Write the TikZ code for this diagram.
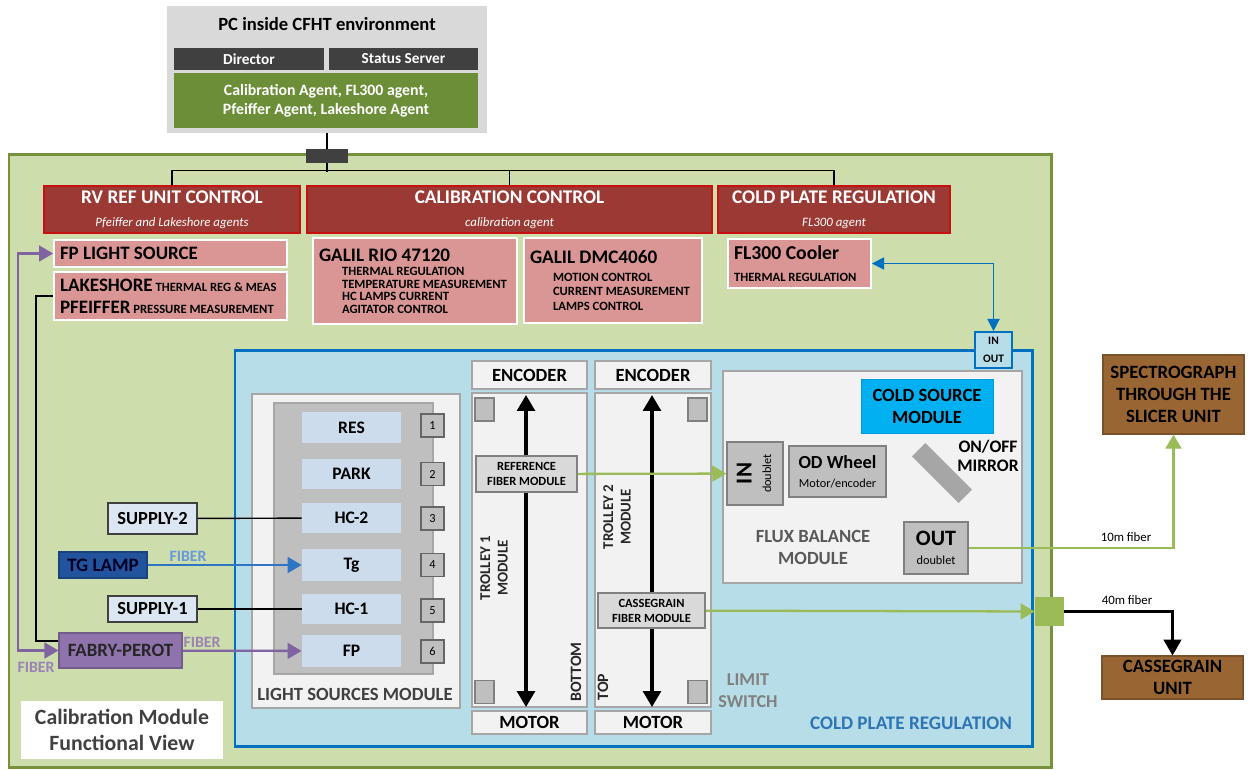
\documentclass[tikz,border=0pt]{standalone}
\usepackage{fontspec}
\setmainfont{Carlito}
\usepackage{xcolor}
\usetikzlibrary{arrows.meta,positioning}

\definecolor{pcgray}{RGB}{217,217,217}
\definecolor{agentgreen}{RGB}{109,142,56}
\definecolor{panelgreen}{RGB}{206,221,172}
\definecolor{panelborder}{RGB}{118,146,60}
\definecolor{hdrred}{RGB}{155,57,52}
\definecolor{hdrborder}{RGB}{200,16,16}
\definecolor{pinkfill}{RGB}{218,150,148}
\definecolor{coldfill}{RGB}{183,221,232}
\definecolor{coldline}{RGB}{0,112,192}
\definecolor{modfill}{RGB}{242,242,242}
\definecolor{modline}{RGB}{166,166,166}
\definecolor{partgray}{RGB}{191,191,191}
\definecolor{lampfill}{RGB}{204,220,236}
\definecolor{supplyfill}{RGB}{220,230,242}
\definecolor{tgblue}{RGB}{33,84,156}
\definecolor{fpurple}{RGB}{143,115,173}
\definecolor{fiberpurple}{RGB}{128,100,162}
\definecolor{fiberblue}{RGB}{46,117,196}
\definecolor{fiberlabel}{RGB}{102,153,221}
\definecolor{fibergreen}{RGB}{155,187,89}
\definecolor{unitbrown}{RGB}{153,102,51}
\definecolor{coldsrc}{RGB}{0,176,240}
\definecolor{textgray}{RGB}{89,89,89}
\definecolor{lightgraytext}{RGB}{128,128,128}
\definecolor{bluetext}{RGB}{46,117,182}

\begin{document}
\begin{tikzpicture}[x=0.02cm, y=-0.02cm,
  every node/.style={rectangle, inner sep=0pt, font=\bfseries},
  wh/.style 2 args={minimum width=#1*0.02cm, minimum height=#2*0.02cm},
  header/.style={fill=hdrred, draw=hdrborder, line width=0.8pt, text=white, align=center},
  pinkbox/.style={fill=pinkfill, draw=white, line width=1pt, align=flush left, inner xsep=0.12cm},
  modbox/.style={fill=modfill, draw=modline, line width=0.8pt},
  partbox/.style={fill=partgray, draw=gray, line width=0.8pt},
  lampbox/.style={fill=lampfill, font=\bfseries\fontsize{10}{12}\selectfont},
  slotbox/.style={fill=partgray, draw=gray!80!black, line width=0.8pt, wh={23}{23},
    font=\fontsize{7}{8}\selectfont},
  supplybox/.style={fill=supplyfill, draw=black!75, line width=0.8pt,
    font=\bfseries\fontsize{10.5}{12}\selectfont},
  endbox/.style={modbox, font=\bfseries\fontsize{10.6}{12}\selectfont},
  unitbox/.style={fill=unitbrown, draw=unitbrown!80!black, line width=0.6pt, align=center,
    font=\bfseries\fontsize{10.7}{12.5}\selectfont},
  fiberarrow/.style={-{Triangle[width=9pt,length=8pt]}, line width=1.3pt}
]

\useasboundingbox (0,0) rectangle (1250,769);
\fill[white] (0,0) rectangle (1250,769);



    \node (pc_box) [fill=pcgray, wh={320}{127}, shift={(327,69.5)}] {};

    \node (pc_title) [font=\bfseries\fontsize{10.6}{12}\selectfont, shift={(327,24)}]
    {
        PC inside CFHT environment
    };

    \node (director) [fill=black!75, text=white, wh={150}{22},
        font=\bfseries\fontsize{8.7}{10}\selectfont, shift={(249,59)}]
    {
        Director
    };

    \node (status_server) [fill=black!75, text=white, wh={149}{22},
        font=\bfseries\fontsize{8.7}{10}\selectfont, shift={(403.5,59)}]
    {
        Status Server
    };

    \node (cfht_agents) [fill=agentgreen, text=white, wh={304}{55}, align=center,
        font=\bfseries\fontsize{9}{11}\selectfont, shift={(326,100.5)}]
    {
        Calibration Agent, FL300 agent,\\Pfeiffer Agent, Lakeshore Agent
    };



    \node (main_panel) [fill=panelgreen, draw=panelborder, line width=1.7pt, wh={1042}{613},
        shift={(530,460.5)}] {};

    \draw[black, line width=0.8pt] (pc_box.south) -- ++(0,39);

    \node (lan_port) [fill=black!75, wh={42}{14}, shift={(327,156)}] {};



    \node (rv_ref_ctrl) [header, wh={256}{47}, shift={(172,209.5)}]
    {
        {\fontsize{11}{13}\selectfont RV REF UNIT CONTROL}\\[1pt]
        {\mdseries\itshape\fontsize{7.3}{8}\selectfont Pfeiffer and Lakeshore agents}
    };

    \node (calib_ctrl) [header, wh={405}{47}, shift={(509.5,209.5)}]
    {
        {\fontsize{11}{13}\selectfont CALIBRATION CONTROL}\\[1pt]
        {\mdseries\itshape\fontsize{7.3}{8}\selectfont calibration agent}
    };

    \node (cold_plate_ctrl) [header, wh={232}{47}, shift={(834,209.5)}]
    {
        {\fontsize{11}{13}\selectfont COLD PLATE REGULATION}\\[1pt]
        {\mdseries\itshape\fontsize{7.3}{8}\selectfont FL300 agent}
    };

    \draw[black, line width=0.8pt] (rv_ref_ctrl.north) -- ++(0,-15) -| (cold_plate_ctrl.north);
    \draw[black, line width=0.8pt] (calib_ctrl.north) -- ++(0,-15);



    \node (fp_light_src) [pinkbox, wh={233}{27}, text width=4.42cm,
        font=\bfseries\fontsize{10.8}{13}\selectfont, shift={(170.5,253.5)}]
    {
        FP LIGHT SOURCE
    };

    \node (lakeshore_pfeiffer) [pinkbox, wh={233}{48}, text width=4.42cm,
        font=\bfseries\fontsize{7.2}{12.5}\selectfont, shift={(170.5,296)}]
    {
        {\fontsize{10.8}{13}\selectfont LAKESHORE} THERMAL REG \& MEAS\\
        {\fontsize{10.8}{13}\selectfont PFEIFFER} PRESSURE MEASUREMENT
    };

    \node (galil_rio) [pinkbox, wh={204}{86}, text width=3.84cm,
        font=\bfseries\fontsize{7.2}{7.1}\selectfont, shift={(415,281)}]
    {
        {\fontsize{10.9}{13}\selectfont GALIL RIO 47120}\\[1pt]
        \hspace*{0.46cm}THERMAL REGULATION\\
        \hspace*{0.46cm}TEMPERATURE MEASUREMENT\\
        \hspace*{0.46cm}HC LAMPS CURRENT\\
        \hspace*{0.46cm}AGITATOR CONTROL
    };

    \node (galil_dmc) [pinkbox, wh={178}{85}, text width=3.32cm,
        font=\bfseries\fontsize{7.2}{8.2}\selectfont, shift={(613,280.5)}]
    {
        {\fontsize{10.9}{13}\selectfont GALIL DMC4060}\\[2pt]
        \hspace*{0.46cm}MOTION CONTROL\\
        \hspace*{0.46cm}CURRENT MEASUREMENT\\
        \hspace*{0.46cm}LAMPS CONTROL
    };

    \node (fl300_cooler) [pinkbox, wh={143}{49}, text width=2.62cm,
        font=\bfseries\fontsize{7.2}{12.5}\selectfont, shift={(799.5,263.5)}]
    {
        {\fontsize{11.2}{13}\selectfont FL300 Cooler}\\
        THERMAL REGULATION
    };



    \node (cold_plate) [fill=coldfill, draw=coldline, line width=1.7pt, wh={797}{396},
        shift={(633.5,548)}] {};

    \node (cold_plate_label) [text=bluetext, font=\bfseries\fontsize{10.9}{12}\selectfont,
        shift={(911,723)}]
    {
        COLD PLATE REGULATION
    };

    \node (in_out_port) [fill=coldfill, draw=coldline, line width=1pt, wh={37}{36}, align=center,
        font=\bfseries\fontsize{6.5}{10}\selectfont, shift={(993.5,350)}]
    {
        IN\\OUT
    };

    \draw[{Triangle[width=7pt,length=7pt]}-{Triangle[width=7pt,length=7pt]}, coldline, line width=0.8pt]
        (fl300_cooler.east) -| (in_out_port.north);



    \node (ls_module) [modbox, wh={208}{314}, shift={(356,551)}] {};

    \node (ls_carousel) [fill=partgray, draw=modline, line width=0.8pt, wh={159}{271},
        shift={(353.5,538.5)}] {};

    \node (ls_label) [text=black!75, font=\bfseries\fontsize{10.6}{12}\selectfont, shift={(355,694)}]
    {
        LIGHT SOURCES MODULE
    };

    \node (lamp_res) [lampbox, wh={99}{31}, shift={(351.5,427.5)}] {RES};
    \node (lamp_park) [lampbox, wh={99}{30}, shift={(351.5,474)}] {PARK};
    \node (lamp_hc2) [lampbox, wh={99}{30}, shift={(351.5,518)}] {HC-2};
    \node (lamp_tg) [lampbox, wh={99}{32}, shift={(351.5,565)}] {Tg};
    \node (lamp_hc1) [lampbox, wh={99}{30}, shift={(351.5,609)}] {HC-1};
    \node (lamp_fp) [lampbox, wh={99}{32}, shift={(351.5,651)}] {FP};

    \node (slot_1) [slotbox, shift={(432.5,425.5)}] {1};
    \node (slot_2) [slotbox, shift={(432.5,474)}] {2};
    \node (slot_3) [slotbox, shift={(432.5,518.5)}] {3};
    \node (slot_4) [slotbox, shift={(432.5,565)}] {4};
    \node (slot_5) [slotbox, shift={(432.5,610.5)}] {5};
    \node (slot_6) [slotbox, shift={(432.5,651.5)}] {6};



    \node (supply_2) [supplybox, wh={89}{31}, shift={(152.5,518.5)}] {SUPPLY-2};

    \node (tg_lamp) [fill=tgblue, draw=tgblue!80!black, line width=0.6pt, wh={88}{26},
        text=black!85!blue, font=\bfseries\fontsize{10.8}{12}\selectfont, shift={(103,565)}]
    {
        TG LAMP
    };

    \node (supply_1) [supplybox, wh={89}{26}, shift={(152.5,609)}] {SUPPLY-1};

    \node (fabry_perot) [fill=fpurple, draw=fpurple!80!black, line width=0.6pt, wh={123}{35},
        text=black!85, font=\bfseries\fontsize{10.7}{12}\selectfont, shift={(120.5,650.5)}]
    {
        FABRY-PEROT
    };

    \node (tg_fiber_label) [text=fiberlabel, font=\bfseries\fontsize{9}{10}\selectfont,
        shift={(188,556)}] {FIBER};
    \node (fp_fiber_label) [text=fiberpurple!80, font=\bfseries\fontsize{9}{10}\selectfont,
        shift={(202,642)}] {FIBER};
    \node (fp_src_fiber_label) [text=fiberpurple!80, font=\bfseries\fontsize{9}{10}\selectfont,
        shift={(36,667)}] {FIBER};

    \coordinate (fiber_bend) at (18,450);
    \coordinate (power_bend) at (36,450);

    \draw[black, line width=0.8pt] (supply_2) -- (lamp_hc2);
    \draw[black, line width=0.8pt] (supply_1) -- (lamp_hc1);
    \draw[fiberarrow, fiberblue] (tg_lamp) -- (lamp_tg);
    \draw[fiberarrow, fiberpurple] (fabry_perot) -- (lamp_fp);
    \draw[{Triangle[width=9pt,length=8pt]}-{Triangle[width=9pt,length=8pt]}, fiberpurple, line width=1.3pt]
        (fabry_perot.west) -| (fiber_bend) |- (fp_light_src.west);
    \draw[black, line width=0.8pt] (lakeshore_pfeiffer.west) -| (power_bend)
        |- ([yshift=5.4pt]fabry_perot.west);



    \node (encoder_1) [endbox, wh={115}{28}, shift={(529.5,375)}] {ENCODER};
    \node (trolley_1) [modbox, wh={115}{314}, shift={(529.5,550)}] {};
    \node (motor_1) [endbox, wh={115}{23}, shift={(529.5,722.5)}] {MOTOR};

    \node (encoder_2) [endbox, wh={116}{28}, shift={(653,375)}] {ENCODER};
    \node (trolley_2) [modbox, wh={116}{314}, shift={(653,550)}] {};
    \node (motor_2) [endbox, wh={116}{23}, shift={(653,722.5)}] {MOTOR};

    \node (switch_1a) [partbox, wh={19}{23}, shift={(484.5,409.5)}] {};
    \node (switch_1b) [partbox, wh={19}{23}, shift={(484.5,692)}] {};
    \node (switch_2a) [partbox, wh={19}{23}, shift={(697.5,409.5)}] {};
    \node (switch_2b) [partbox, wh={19}{23}, shift={(697.5,692)}] {};

    \coordinate (rail_1_top) at (526,395);
    \coordinate (rail_1_bot) at (526,707);
    \coordinate (rail_2_top) at (652,395);
    \coordinate (rail_2_bot) at (652,707);

    \draw[{Triangle[width=10pt,length=9pt]}-{Triangle[width=10pt,length=9pt]}, line width=2pt]
        (rail_1_top) -- (rail_1_bot);
    \draw[{Triangle[width=10pt,length=9pt]}-{Triangle[width=10pt,length=9pt]}, line width=2pt]
        (rail_2_top) -- (rail_2_bot);

    \node (ref_fiber_mod) [fill=pcgray, draw=gray, line width=0.8pt, wh={101}{36}, align=center,
        font=\bfseries\fontsize{7.1}{8.5}\selectfont, shift={(526.5,474)}]
    {
        REFERENCE\\FIBER MODULE
    };

    \node (cass_fiber_mod) [fill=pcgray, draw=gray, line width=0.8pt, wh={107}{35}, align=center,
        font=\bfseries\fontsize{7.1}{8.5}\selectfont, shift={(651.5,610.5)}]
    {
        CASSEGRAIN\\FIBER MODULE
    };

    \node (trolley_1_label) [shift={(494,568)}, rotate=90, align=center, text=black!85,
        font=\bfseries\fontsize{8.5}{10}\selectfont]
    {
        TROLLEY 1\\MODULE
    };

    \node (trolley_2_label) [shift={(617,517)}, rotate=90, align=center, text=black!85,
        font=\bfseries\fontsize{8.5}{10}\selectfont]
    {
        TROLLEY 2\\MODULE
    };

    \node (bottom_label) [shift={(576,672)}, rotate=90, text=black!85,
        font=\bfseries\fontsize{9}{10}\selectfont] {BOTTOM};
    \node (top_label) [shift={(603,687)}, rotate=90, text=black!85,
        font=\bfseries\fontsize{9}{10}\selectfont] {TOP};

    \node (limit_label) [align=center, text=lightgraytext, font=\bfseries\fontsize{10.3}{12.5}\selectfont,
        shift={(748,691)}]
    {
        LIMIT\\SWITCH
    };



    \node (flux_module) [modbox, wh={299}{212}, shift={(872.5,477)}] {};

    \node (cold_source) [fill=coldsrc, draw=coldsrc!90!black, line width=0.5pt, wh={132}{54},
        align=center, font=\bfseries\fontsize{10.6}{12.5}\selectfont, shift={(927,406)}]
    {
        COLD SOURCE\\MODULE
    };

    \node (in_doublet) [partbox, wh={56}{63}, shift={(755,473.5)}] {};
    \node (in_doublet_text) [shift={(754,473.5)}, rotate=90, align=center]
    {
        {\fontsize{13}{13}\selectfont IN}\\[-1pt]{\mdseries\fontsize{7}{8}\selectfont doublet}
    };

    \node (od_wheel) [partbox, wh={97}{51}, align=center, font=\bfseries\fontsize{7}{8}\selectfont,
        shift={(837.5,471.5)}]
    {
        {\fontsize{10.5}{12}\selectfont OD Wheel}\\[3pt]{\mdseries Motor/encoder}
    };

    \node (onoff_mirror) [shift={(942,473)}, rotate=-45, fill=black!35, wh={66}{19}] {};

    \node (onoff_label) [align=center, font=\bfseries\fontsize{10}{11}\selectfont, shift={(988,456)}]
    {
        ON/OFF\\MIRROR
    };

    \node (flux_label) [align=center, text=textgray, font=\bfseries\fontsize{10.6}{12.5}\selectfont,
        shift={(813,547)}]
    {
        FLUX BALANCE\\MODULE
    };

    \node (out_doublet) [partbox, wh={64}{52}, align=center, font=\bfseries\fontsize{7}{8}\selectfont,
        shift={(936,548)}]
    {
        {\fontsize{12.5}{13}\selectfont OUT}\\[3pt]{\mdseries doublet}
    };



    \node (cass_port) [fill=fibergreen, wh={29}{29}, shift={(1049.5,611.5)}] {};

    \node (spectrograph) [unitbox, wh={141}{79}, shift={(1173.5,394.5)}]
    {
        SPECTROGRAPH\\THROUGH THE\\SLICER UNIT
    };

    \node (cassegrain_unit) [unitbox, wh={141}{43}, shift={(1172.5,677.5)}]
    {
        CASSEGRAIN\\UNIT
    };

    \node (fiber_10m_label) [font=\fontsize{7.3}{8}\selectfont, shift={(1126,537)}] {10m fiber};
    \node (fiber_40m_label) [font=\fontsize{7.3}{8}\selectfont, shift={(1127,600)}] {40m fiber};

    \draw[fiberarrow, fibergreen] (ref_fiber_mod) -- (in_doublet);
    \draw[fiberarrow, fibergreen] (cass_fiber_mod) -- (cass_port);
    \draw[fiberarrow, fibergreen] (out_doublet.east) -| (spectrograph.south);
    \draw[-{Triangle[width=10pt,length=9pt]}, black, line width=1.3pt] (cass_port.east) -| (cassegrain_unit.north);



    \node (calib_view) [fill=white, wh={202}{58}, align=center, text=black!75,
        font=\bfseries\fontsize{12.4}{14.5}\selectfont, shift={(122,730)}]
    {
        Calibration Module\\Functional View
    };

\end{tikzpicture}
\end{document}
